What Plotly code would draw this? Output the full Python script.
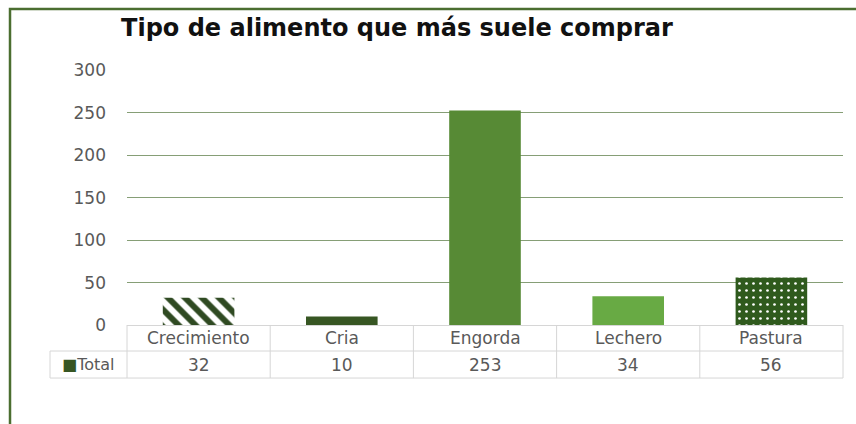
import plotly.graph_objects as go

categories = ["Crecimiento", "Cria", "Engorda", "Lechero", "Pastura"]
totals = [32, 10, 253, 34, 56]
series_name = "Total"
y_ticks = [0, 50, 100, 150, 200, 250, 300]

bar_colors = ["#ffffff", "#375623", "#578a35", "#68aa44", "#2f5a1d"]
pattern_shapes = ["\\", "", "", "", "."]
pattern_fg = ["#2f4a22", "#375623", "#578a35", "#68aa44", "#ffffff"]
pattern_size = [12, 8, 8, 8, 7]
pattern_solid = [0.5, 0.3, 0.3, 0.3, 0.12]

TXT = "#595959"
GRID = "#869e76"
TABLE = "#d6d6d6"
FONT = "DejaVu Sans"
FS = 17

fig = go.Figure()
for i, (c, v) in enumerate(zip(categories, totals)):
    pat = dict(shape=pattern_shapes[i], fgcolor=pattern_fg[i], bgcolor=bar_colors[i],
               fgopacity=1, size=pattern_size[i], solidity=pattern_solid[i],
               fillmode="overlay")
    fig.add_trace(go.Bar(
        x=[c], y=[v], width=0.5, name=series_name,
        marker=dict(color=bar_colors[i], line=dict(width=0), pattern=pat),
        showlegend=False,
    ))

n = len(categories)
row1_mid, row_sep, row2_mid, row_bot = -0.051, -0.102, -0.155, -0.208
left_cell = -0.1075

shapes = []
for yy in [row_sep, row_bot]:
    shapes.append(dict(type="line", xref="paper", yref="paper", x0=left_cell, x1=1,
                       y0=yy, y1=yy, line=dict(color=TABLE, width=1)))
for i in range(n + 1):
    shapes.append(dict(type="line", xref="paper", yref="paper", x0=i / n, x1=i / n,
                       y0=0, y1=row_bot, line=dict(color=TABLE, width=1)))
shapes.append(dict(type="line", xref="paper", yref="paper", x0=left_cell, x1=left_cell,
                   y0=row_sep, y1=row_bot, line=dict(color=TABLE, width=1)))
shapes.append(dict(type="rect", xref="paper", yref="paper", x0=-0.1634, x1=1.03,
                   y0=-0.5, y1=1.239, line=dict(color="#4b6e30", width=2.5),
                   fillcolor="rgba(0,0,0,0)", layer="above"))

annotations = []
for c, v in zip(categories, totals):
    annotations.append(dict(x=c, xref="x", y=row1_mid, yref="paper", text=c,
                            showarrow=False, font=dict(family=FONT, size=FS, color=TXT),
                            xanchor="center", yanchor="middle"))
    annotations.append(dict(x=c, xref="x", y=row2_mid, yref="paper", text=str(v),
                            showarrow=False, font=dict(family=FONT, size=FS, color=TXT),
                            xanchor="center", yanchor="middle"))
annotations.append(dict(x=left_cell / 2, xref="paper", y=row2_mid, yref="paper",
                        text='<span style="color:#375623">■</span>' + series_name,
                        showarrow=False, font=dict(family=FONT, size=FS - 1, color=TXT),
                        xanchor="center", yanchor="middle"))

fig.update_layout(
    width=856, height=424,
    margin=dict(l=127, r=13, t=70, b=99),
    paper_bgcolor="white", plot_bgcolor="white",
    barmode="overlay",
    title=dict(text="<b>Tipo de alimento que más suele comprar</b>",
               x=0.377, xref="paper", xanchor="center",
               y=0.934, yref="container", yanchor="middle",
               font=dict(family="DejaVu Sans", size=24, color="#111111")),
    xaxis=dict(showticklabels=False, showgrid=False, zeroline=False, showline=False,
               range=[-0.5, n - 0.5], categoryorder="array", categoryarray=categories),
    yaxis=dict(range=[0, 300.6], tickvals=y_ticks, showgrid=True, gridcolor=GRID,
               gridwidth=1.4, zeroline=True, zerolinecolor=TABLE, zerolinewidth=1,
               showline=False, ticks="", ticklabelstandoff=20,
               tickfont=dict(family=FONT, size=FS, color=TXT)),
    shapes=shapes, annotations=annotations,
)

fig.write_html("out.html", config={"displayModeBar": False},
               post_script="document.body.style.margin='0px';")
